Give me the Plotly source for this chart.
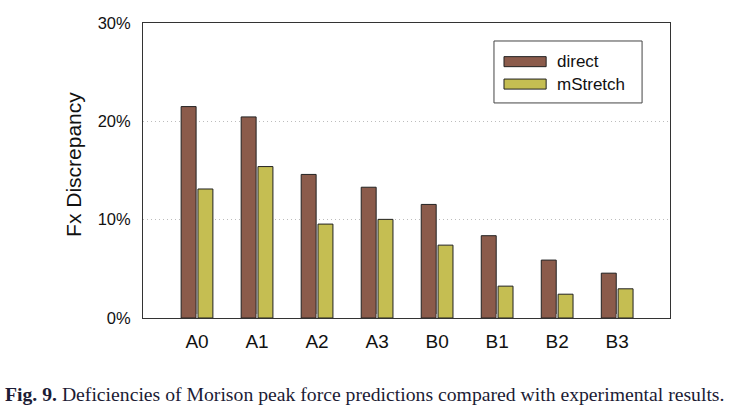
import plotly.graph_objects as go

categories = ["A0", "A1", "A2", "A3", "B0", "B1", "B2", "B3"]
direct = [21.5, 20.45, 14.6, 13.3, 11.55, 8.37, 5.89, 4.56]
mstretch = [13.12, 15.4, 9.55, 10.03, 7.41, 3.24, 2.42, 2.97]
series_names = ["direct", "mStretch"]
colors = ["#8B5B4B", "#C5BE52"]
y_ticks = [0, 10, 20, 30]
y_tick_labels = ["0%", "10%", "20%", "30%"]
caption = "<b>Fig. 9.</b> Deficiencies of Morison peak force predictions compared with experimental results."

fig = go.Figure()
for name, vals, col in zip(series_names, [direct, mstretch], colors):
    fig.add_trace(go.Bar(x=categories, y=vals, name=name, marker=dict(color=col, line=dict(color="#222222", width=1)), showlegend=False))

font = "Liberation Sans, Arial, sans-serif"
fig.update_layout(
    width=729, height=410,
    margin=dict(l=143, r=59, t=23, b=92),
    plot_bgcolor="white", paper_bgcolor="white",
    barmode="group", bargap=0.44, bargroupgap=0.11,
    font=dict(family=font, color="#222222"),
)
fig.update_xaxes(
    range=[-0.9, 7.88], showline=True, linecolor="#333333", linewidth=1, mirror=True,
    ticks="inside", ticklen=4, tickcolor="#999999", tickwidth=2,
    tickfont=dict(size=19, family=font, color="#111111"), showgrid=False,
    ticklabelstandoff=6,
)
fig.update_yaxes(
    range=[0, 30], tickvals=y_ticks, ticktext=y_tick_labels,
    showline=True, linecolor="#333333", linewidth=1, mirror=True,
    showgrid=True, gridcolor="#bdbdbd", griddash="1px,3px", gridwidth=1,
    ticks="", tickfont=dict(size=16.5, family=font, color="#111111"),
    ticklabelstandoff=8, zeroline=False,
)

# y-axis title
fig.add_annotation(text="Fx Discrepancy", xref="paper", yref="paper", x=-0.133, y=0.522,
                   textangle=-90, showarrow=False, font=dict(size=21, family=font, color="#111111"),
                   xanchor="center", yanchor="middle")

# legend box
fig.add_shape(type="rect", xref="paper", yref="paper", x0=0.666, x1=0.947, y0=0.729, y1=0.939,
              line=dict(color="#444444", width=1), fillcolor="white")
sw_y = [(0.852, 0.886), (0.776, 0.810)]
for (y0, y1), name, col in zip(sw_y, series_names, colors):
    fig.add_shape(type="rect", xref="paper", yref="paper", x0=0.685, x1=0.765, y0=y0, y1=y1,
                  line=dict(color="#222222", width=1), fillcolor=col)
    fig.add_annotation(text=name, xref="paper", yref="paper", x=0.782, y=(y0 + y1) / 2,
                       xanchor="left", yanchor="middle", showarrow=False,
                       font=dict(size=17, family=font, color="#111111"))

# caption
fig.add_annotation(text=caption, xref="paper", yref="paper", x=0.421, y=-0.256,
                   xanchor="center", yanchor="middle", showarrow=False,
                   font=dict(size=19.7, family="Liberation Serif, serif", color="#1c1c35"))

fig.write_html("out.html")
